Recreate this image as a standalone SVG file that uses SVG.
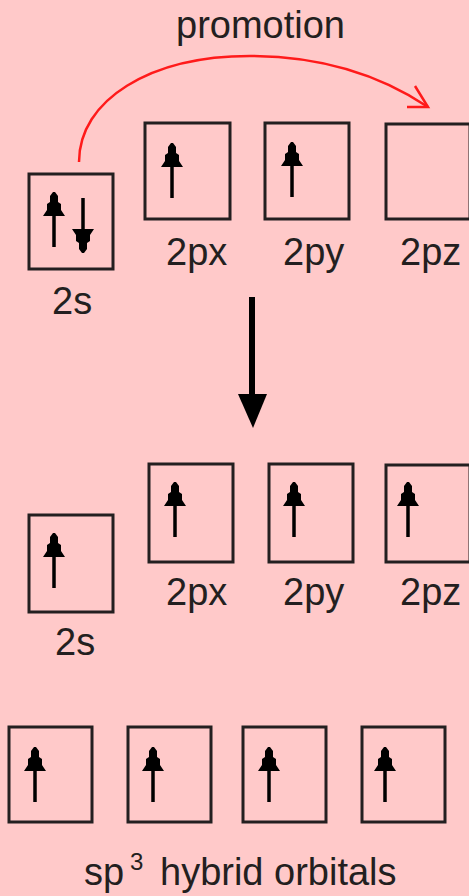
<svg xmlns="http://www.w3.org/2000/svg" xmlns:xlink="http://www.w3.org/1999/xlink" width="469" height="896" viewBox="0 0 469 896">
<style>
.box{fill:none;stroke:#231f20;stroke-width:3}
.lbl{font-family:"Liberation Sans",Arial,sans-serif;font-size:38px;fill:#231f20}
.shaft{stroke:#000;stroke-width:3.5}
</style>
<defs>
<g id="e">
<line class="shaft" x1="0" y1="20" x2="0" y2="55"/>
<polygon points="-1,0 -4,4 -4,10 -7,12 -7,18 -11,24 11,24 7,18 7,12 4,10 4,4 1,0" fill="#000"/>
</g>
</defs>
<rect width="469" height="896" fill="#ffc9c9"/>
<text class="lbl" x="176" y="38">promotion</text>
<g id="top-2s">
<rect class="box" x="29" y="174" width="84" height="95"/>
<use xlink:href="#e" x="54" y="192"/>
<use xlink:href="#e" transform="translate(83,253) rotate(180)"/>
<text class="lbl" x="52" y="314">2s</text>
</g>
<g id="top-2px">
<rect class="box" x="145" y="123" width="85" height="96"/>
<use xlink:href="#e" x="172" y="143"/>
<text class="lbl" x="166" y="265">2px</text>
</g>
<g id="top-2py">
<rect class="box" x="265" y="123" width="84" height="96"/>
<use xlink:href="#e" x="292" y="142"/>
<text class="lbl" x="283" y="265">2py</text>
</g>
<g id="top-2pz">
<rect class="box" x="386" y="124" width="84" height="95"/>
<text class="lbl" x="400" y="265">2pz</text>
</g>
<g id="mid-2s">
<rect class="box" x="29" y="515" width="84" height="97"/>
<use xlink:href="#e" x="54" y="533"/>
<text class="lbl" x="55" y="655">2s</text>
</g>
<g id="mid-2px">
<rect class="box" x="149" y="464" width="84" height="98"/>
<use xlink:href="#e" x="175" y="482"/>
<text class="lbl" x="166" y="605">2px</text>
</g>
<g id="mid-2py">
<rect class="box" x="269" y="464" width="84" height="98"/>
<use xlink:href="#e" x="294" y="482"/>
<text class="lbl" x="283" y="605">2py</text>
</g>
<g id="mid-2pz">
<rect class="box" x="386" y="465" width="84" height="97"/>
<use xlink:href="#e" x="408" y="482"/>
<text class="lbl" x="400" y="605">2pz</text>
</g>
<g id="sp3-1">
<rect class="box" x="9" y="727" width="83" height="95"/>
<use xlink:href="#e" x="35" y="747"/>
</g>
<g id="sp3-2">
<rect class="box" x="128" y="727" width="83" height="95"/>
<use xlink:href="#e" x="153" y="747"/>
</g>
<g id="sp3-3">
<rect class="box" x="243" y="727" width="83" height="95"/>
<use xlink:href="#e" x="269" y="747"/>
</g>
<g id="sp3-4">
<rect class="box" x="362" y="727" width="83" height="95"/>
<use xlink:href="#e" x="385" y="747"/>
</g>
<text class="lbl" x="84" y="885">sp<tspan font-size="24" x="130" y="870">3</tspan><tspan x="160" y="885">hybrid orbitals</tspan></text>
<g id="connectors">
<path d="M79,162 C79,100 150,56 250,56 C320,56 380,75 428,107" fill="none" stroke="#ff1a1a" stroke-width="2.5"/>
<path d="M407,107 L428,107 L415,86" fill="none" stroke="#ff1a1a" stroke-width="2.5"/>
<line x1="252" y1="297" x2="252" y2="400" stroke="#000" stroke-width="6"/>
<polygon points="238,394 267,394 253,428" fill="#000"/>
</g>
</svg>
